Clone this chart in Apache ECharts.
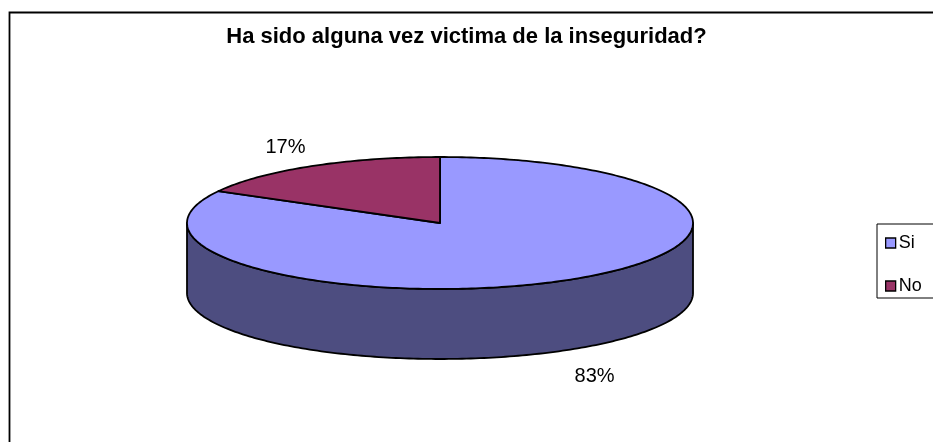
<!DOCTYPE html>
<html>
<head>
<meta charset="utf-8">
<script src="https://cdn.jsdelivr.net/npm/echarts@6/dist/echarts.min.js"></script>
<style>html,body{margin:0;padding:0;background:#fff}#c{width:933px;height:442px}</style>
</head>
<body>
<div id="c"></div>
<script>
var titleText = 'Ha sido alguna vez victima de la inseguridad?';
var categories = ['Si', 'No'];
var values = [83, 17];
var topColors = ['#9999FF', '#993366'];
var sideColors = ['#4D4D80', '#4D1A33'];

var FONT = 'Liberation Sans, Arial, sans-serif';
var CX = 440, CY = 223, RX = 253, RY = 66, DEPTH = 70;

var total = values.reduce(function (a, b) { return a + b; }, 0);

function pt(theta, dy) {
  return [CX + RX * Math.sin(theta), CY - RY * Math.cos(theta) + (dy || 0)];
}
function arc(a1, a2, dy) {
  var pts = [];
  var n = Math.max(2, Math.ceil(Math.abs(a2 - a1) / (Math.PI / 180)));
  for (var i = 0; i <= n; i++) pts.push(pt(a1 + (a2 - a1) * i / n, dy));
  return pts;
}

function renderItem(params, api) {
  var idx = params.seriesIndex;
  var before = 0;
  for (var i = 0; i < idx; i++) before += values[i];
  var v = api.value(0);
  var a1 = before / total * Math.PI * 2;
  var a2 = (before + v) / total * Math.PI * 2;
  var children = [];
  // visible front wall: theta in [PI/2, 3PI/2]
  var s1 = Math.max(a1, Math.PI / 2), s2 = Math.min(a2, Math.PI * 1.5);
  if (s2 > s1) {
    var topArc = arc(s1, s2, 0);
    var botArc = arc(s2, s1, DEPTH);
    children.push({
      type: 'polygon', z2: 1,
      shape: { points: topArc.concat(botArc) },
      style: { fill: sideColors[idx], stroke: '#000', lineWidth: 1.8, lineJoin: 'round' }
    });
  }
  // top face
  var topPts = [[CX, CY]].concat(arc(a1, a2, 0));
  children.push({
    type: 'polygon', z2: 5,
    shape: { points: topPts },
    style: { fill: topColors[idx], stroke: '#000', lineWidth: 1.8, lineJoin: 'round' }
  });
  // label
  var mid = (a1 + a2) / 2;
  var lx = CX + RX * 1.2 * Math.sin(mid);
  var ly = CY - RY * 1.33 * Math.cos(mid);
  if (Math.cos(mid) < 0) ly += DEPTH + 8;
  children.push({
    type: 'text', z2: 10,
    style: {
      x: lx, y: ly, text: Math.round(v / total * 100) + '%',
      fill: '#000', font: '20px ' + FONT, align: 'center', verticalAlign: 'middle'
    }
  });
  return { type: 'group', children: children };
}

var series = categories.map(function (name, i) {
  return {
    type: 'custom', name: name, coordinateSystem: 'none',
    itemStyle: { color: topColors[i] },
    renderItem: renderItem,
    data: [[values[i]]],
    silent: true, animation: false
  };
});

var chart = echarts.init(document.getElementById('c'));
chart.setOption({
  backgroundColor: '#fff',
  animation: false,
  title: {
    text: titleText, left: 'center', top: 26, padding: 0,
    textStyle: { fontFamily: FONT, fontWeight: 'bold', fontSize: 22, color: '#000' }
  },
  legend: {
    data: categories, orient: 'vertical', left: 877, top: 224,
    padding: [10, 40, 3, 8], itemGap: 25, itemWidth: 10, itemHeight: 10,
    icon: 'rect', borderColor: '#000', borderWidth: 1,
    itemStyle: { borderColor: '#000', borderWidth: 1.3 },
    textStyle: { fontFamily: FONT, fontSize: 18, color: '#000', lineHeight: 17, padding: [0, 0, 0, -2] },
    selectedMode: false
  },
  graphic: [{
    type: 'rect', left: 7, top: 10, z: -1,
    shape: { width: 1000, height: 1000 },
    style: { fill: 'none', stroke: '#000', lineWidth: 1.8 }
  }],
  series: series
});
</script>
</body>
</html>
